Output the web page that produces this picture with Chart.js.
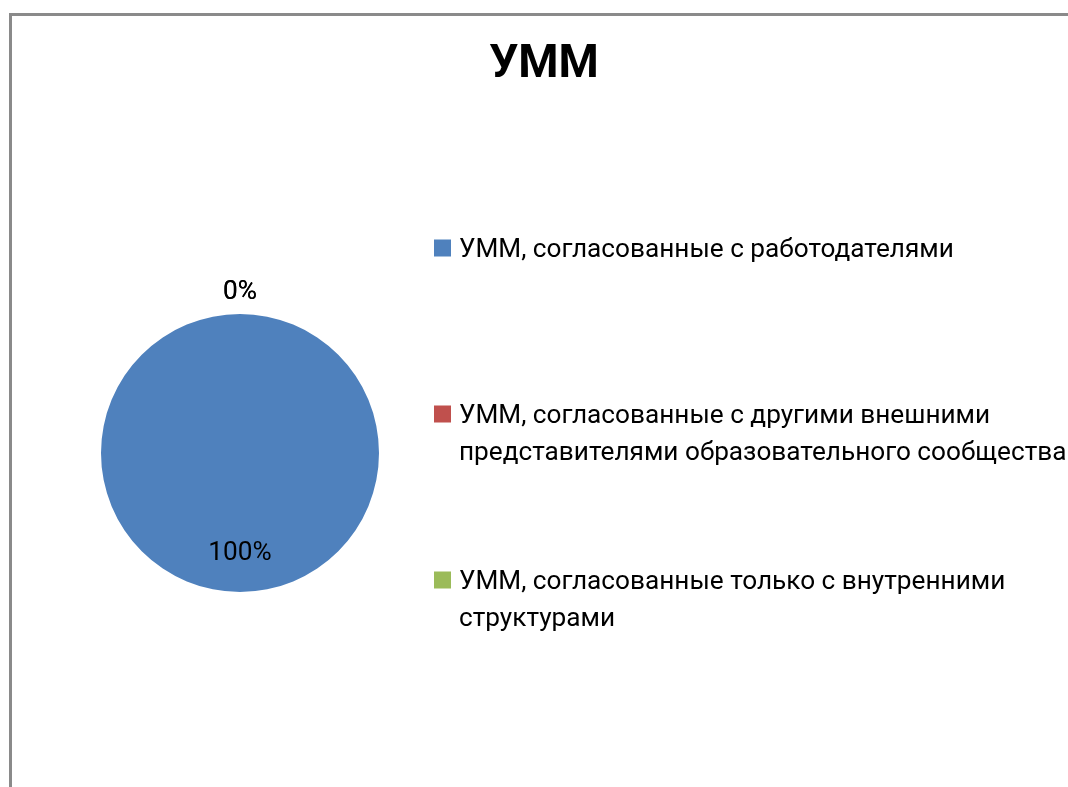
<!DOCTYPE html>
<html>
<head>
<meta charset="utf-8">
<script src="https://cdn.jsdelivr.net/npm/chart.js@4.4.1/dist/chart.umd.min.js"></script>
<style>
  html, body { margin: 0; padding: 0; background: #fff; }
  #wrap { width: 1068px; height: 787px; }
</style>
</head>
<body>
<div id="wrap"><canvas id="umm_chart"></canvas></div>
<script>
const chartTitle = 'УММ';
// legend text, one array of lines per category
const categories = [
  ['УММ, согласованные с работодателями'],
  ['УММ, согласованные с другими внешними', 'представителями образовательного сообщества'],
  ['УММ, согласованные только с внутренними', 'структурами']
];
const shares = [100, 0, 0];
const sliceColors = ['#4F81BD', '#C0504D', '#9BBB59'];

const FONT = 'Roboto, "Liberation Sans", sans-serif';

// grey frame of the chart object (only top and left edges are visible)
const framePlugin = {
  id: 'frame',
  beforeDraw(chart) {
    const ctx = chart.ctx;
    ctx.save();
    ctx.strokeStyle = '#8a8a8a';
    ctx.lineWidth = 3;
    ctx.beginPath();
    ctx.moveTo(10.5, chart.height);
    ctx.lineTo(10.5, 14.5);
    ctx.lineTo(chart.width, 14.5);
    ctx.stroke();
    ctx.restore();
  }
};

const titlePlugin = {
  id: 'bigTitle',
  afterDraw(chart) {
    const ctx = chart.ctx;
    ctx.save();
    ctx.fillStyle = '#000';
    ctx.font = 'bold 46px ' + FONT;
    ctx.textAlign = 'center';
    ctx.textBaseline = 'middle';
    ctx.fillText(chartTitle, 544, 65);
    ctx.restore();
  }
};

// percent labels: big slice inside, empty slices outside the rim
const pctPlugin = {
  id: 'pctLabels',
  afterDatasetsDraw(chart) {
    const ctx = chart.ctx;
    const ds = chart.data.datasets[0];
    const total = ds.data.reduce((a, b) => a + b, 0);
    const meta = chart.getDatasetMeta(0);
    ctx.save();
    ctx.fillStyle = '#000';
    ctx.font = '26.2px ' + FONT;
    ctx.textAlign = 'center';
    ctx.textBaseline = 'middle';
    meta.data.forEach((arc, i) => {
      const p = arc.getProps(['x', 'y', 'startAngle', 'endAngle', 'outerRadius'], true);
      const mid = (p.startAngle + p.endAngle) / 2;
      const frac = ds.data[i] / total;
      const r = frac > 0.5 ? p.outerRadius * 0.725 : p.outerRadius + 22;
      ctx.fillText(Math.round(frac * 100) + '%', p.x + Math.cos(mid) * r, p.y + Math.sin(mid) * r);
    });
    ctx.restore();
  }
};

const legendPlugin = {
  id: 'sideLegend',
  afterDraw(chart) {
    const ctx = chart.ctx;
    const colors = chart.data.datasets[0].backgroundColor;
    ctx.save();
    ctx.font = '26.2px ' + FONT;
    ctx.textAlign = 'left';
    ctx.textBaseline = 'middle';
    chart.data.labels.forEach((lines, i) => {
      const y = 248 + i * 166;
      ctx.fillStyle = colors[i];
      ctx.fillRect(434, y - 8.5, 17, 17);
      ctx.fillStyle = '#000';
      lines.forEach((ln, k) => ctx.fillText(ln, 459, y + 2 + k * 37));
    });
    ctx.restore();
  }
};

const el = document.getElementById('umm_chart');

new Chart(el, {
  type: 'pie',
  data: {
    labels: categories,
    datasets: [{
      label: chartTitle,
      data: shares,
      backgroundColor: sliceColors,
      borderWidth: 0,
      radius: 139
    }]
  },
  options: {
    responsive: true,
    maintainAspectRatio: false,
    animation: false,
    layout: {
      padding: { top: 119, left: 20, right: 608, bottom: 0 }
    },
    plugins: {
      legend: { display: false },
      title: { display: false },
      tooltip: { enabled: false }
    }
  },
  plugins: [framePlugin, titlePlugin, pctPlugin, legendPlugin]
});
</script>
</body>
</html>
